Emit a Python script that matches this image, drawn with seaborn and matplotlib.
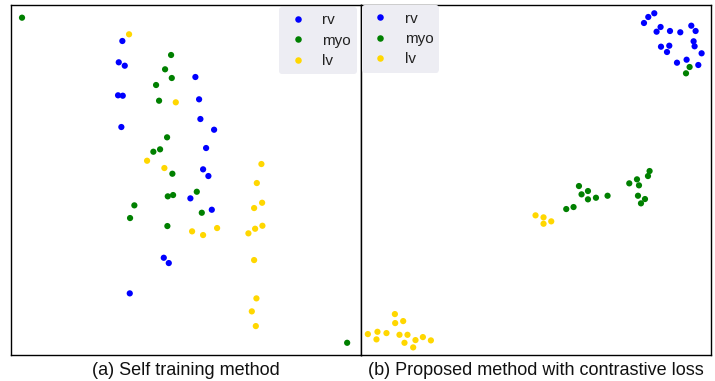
import pandas as pd
import matplotlib.pyplot as plt
import seaborn as sns

# (a) self training - 2D embedding
a_rv_x = [111.3, 107.7, 113.7, 184.3, 107.0, 111.7, 188.0, 189.3, 110.3, 203.0, 195.0, 192.0, 197.3, 179.3, 200.7, 152.7, 157.7, 118.7]
a_rv_y = [314.0, 292.7, 289.3, 278.0, 259.7, 259.3, 255.7, 236.0, 228.0, 225.3, 207.0, 185.7, 179.0, 156.7, 145.3, 97.3, 92.0, 61.7]
a_myo_x = [11.0, 160.0, 154.0, 160.7, 145.0, 148.0, 156.0, 149.0, 142.3, 161.3, 185.7, 156.7, 162.0, 123.3, 190.7, 119.0, 156.3, 336.0]
a_myo_y = [337.3, 300.0, 285.7, 277.0, 270.0, 254.3, 217.7, 205.7, 203.3, 181.3, 163.3, 158.7, 160.0, 149.7, 142.3, 137.0, 129.0, 12.3]
a_lv_x = [118.0, 164.7, 136.0, 153.3, 250.3, 245.7, 251.0, 243.0, 181.0, 192.0, 206.0, 237.3, 244.0, 251.3, 243.0, 245.3, 240.7, 244.7]
a_lv_y = [320.7, 252.7, 194.3, 187.0, 191.0, 172.0, 152.3, 147.0, 123.7, 120.0, 127.0, 121.7, 126.3, 129.3, 95.0, 56.7, 43.7, 29.0]

# (b) proposed method with contrastive loss
b_rv_x = [293.3, 287.3, 283.0, 299.6, 295.6, 309.0, 319.3, 330.3, 334.6, 332.6, 333.6, 340.6, 300.0, 308.3, 306.0, 316.0, 325.6, 337.3]
b_rv_y = [341.7, 338.0, 332.0, 328.0, 323.3, 324.0, 322.7, 329.3, 324.0, 313.7, 308.7, 301.7, 308.3, 309.3, 303.0, 292.3, 295.3, 290.0]
b_myo_x = [328.6, 325.0, 288.6, 287.0, 276.0, 268.3, 278.0, 218.0, 227.0, 220.6, 227.0, 235.0, 246.6, 277.0, 284.0, 280.0, 205.3, 212.6]
b_myo_y = [288.0, 281.7, 184.0, 179.0, 175.7, 171.7, 169.7, 169.0, 164.0, 160.7, 155.7, 157.3, 159.3, 159.3, 156.0, 151.7, 146.0, 148.0]
b_lv_x = [174.6, 182.6, 182.6, 190.3, 34.0, 34.3, 42.3, 7.0, 16.6, 15.6, 25.6, 38.6, 46.6, 43.6, 52.3, 54.6, 62.0, 70.0]
b_lv_y = [139.7, 137.7, 131.3, 133.7, 41.0, 32.0, 34.0, 21.0, 23.3, 15.7, 22.0, 20.3, 20.3, 12.3, 7.7, 15.0, 18.0, 14.7]

classes = ["rv", "myo", "lv"]
palette = {"rv": "blue", "myo": "green", "lv": "gold"}
captions = ["(a) Self training method", "(b) Proposed method with contrastive loss"]


def make_df(rv_x, rv_y, myo_x, myo_y, lv_x, lv_y):
    parts = []
    for name, xs, ys in zip(classes, [rv_x, myo_x, lv_x], [rv_y, myo_y, lv_y]):
        parts.append(pd.DataFrame({"x": xs, "y": ys, "label": name}))
    return pd.concat(parts, ignore_index=True)


df_a = make_df(a_rv_x, a_rv_y, a_myo_x, a_myo_y, a_lv_x, a_lv_y)
df_b = make_df(b_rv_x, b_rv_y, b_myo_x, b_myo_y, b_lv_x, b_lv_y)

sns.set_style("white")
plt.rcParams["font.family"] = ["Liberation Sans", "DejaVu Sans"]

fig, ax = plt.subplots(1, 2, figsize=(7.15, 3.81), dpi=100)
fig.subplots_adjust(left=0.0154, right=0.994, bottom=0.068, top=0.9856, wspace=0)

for n, df in enumerate([df_a, df_b]):
    sns.scatterplot(
        df, x="x", y="y", hue="label", hue_order=classes,
        palette=palette, s=20, linewidth=0, ax=ax[n],
    )
    ax[n].set_xlim(0, 349.7)
    ax[n].set_ylim(0, 349.5)
    ax[n].set_xticks([])
    ax[n].set_yticks([])
    ax[n].set_ylabel("")
    ax[n].set_xlabel(captions[n], fontsize=13, labelpad=5, color="#111111")
    for sp in ax[n].spines.values():
        sp.set_color("black")
        sp.set_linewidth(1.0)

    handles, labels = ax[n].get_legend_handles_labels()
    if n == 0:
        loc, anchor = "upper right", (1 - 4 / 349.7, 1 - 1.5 / 349.5)
    else:
        loc, anchor = "upper left", (1 / 349.7, 1.0)
    leg = ax[n].legend(
        handles, labels, loc=loc, bbox_to_anchor=anchor, borderaxespad=0,
        fontsize=11, handlelength=1.6, handletextpad=0.8, borderpad=0.4,
        labelspacing=0.42, markerscale=1.05, frameon=True, facecolor="#EDEDF3",
        edgecolor="none", framealpha=1, labelcolor="#222222",
    )

plt.savefig("out.png", dpi=100)
